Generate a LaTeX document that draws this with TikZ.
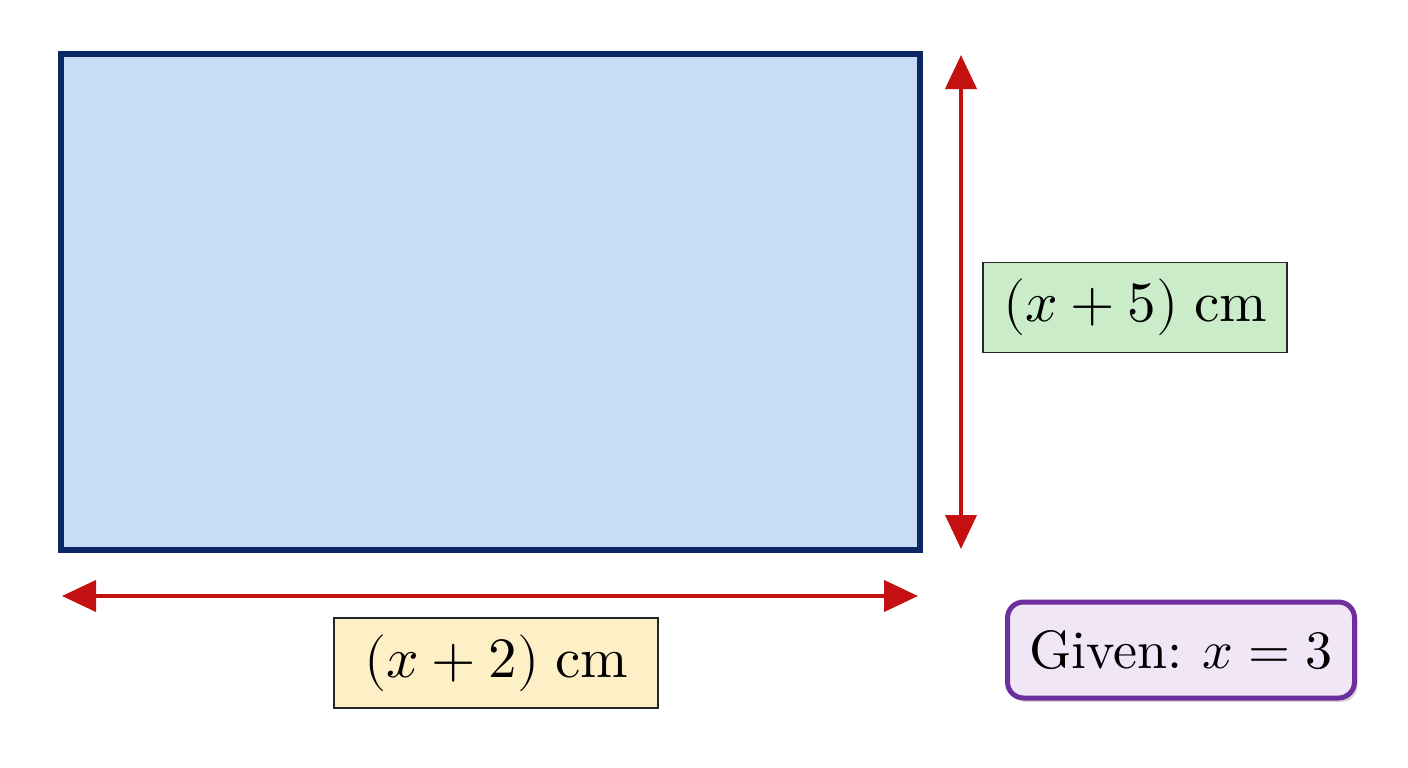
\documentclass[tikz,border=0pt]{standalone}
\usepackage{unicode-math}
\setmainfont{lmroman10-regular.otf}[ItalicFont=lmroman10-italic.otf, BoldFont=lmroman10-bold.otf]
\setmathfont{Latin Modern Math}
\usetikzlibrary{arrows.meta,shadows}
\definecolor{rectfill}{HTML}{C9DCF5}
\definecolor{rectedge}{HTML}{0C2765}
\definecolor{arrred}{HTML}{C41010}
\definecolor{greenfill}{HTML}{CBECC8}
\definecolor{yellowfill}{HTML}{FDF0C6}
\definecolor{purpedge}{HTML}{6E2F9E}
\definecolor{purpfill}{HTML}{F0E6F6}
\tikzset{
  dimarrow/.style={draw=arrred, line width=4pt, {Triangle[length=34pt,width=31pt]}-{Triangle[length=34pt,width=31pt]}},
  dimlabel/.style={draw=black!85, line width=1.4pt, minimum width=#1, minimum height=90pt, inner sep=0pt, font=\fontsize{57}{67}\selectfont},
  givenbox/.style={draw=purpedge, line width=5pt, fill=purpfill, rounded corners=16pt, minimum width=347pt, minimum height=96pt, inner sep=0pt, font=\fontsize{54}{64}\selectfont, drop shadow={shadow xshift=3pt, shadow yshift=-4pt, opacity=0.25, fill=black!60}}
}
\begin{document}
\begin{tikzpicture}[x=1pt,y=-1pt]
\useasboundingbox[fill=white] (0,0) rectangle (1408,768);
\node[draw=rectedge, line width=6pt, fill=rectfill, minimum width=858.5pt, minimum height=495.5pt, inner sep=0pt] (rect) at (490.25,302.25) {};
\coordinate (vtop) at (961,55);
\coordinate (vbot) at (961,549);
\coordinate (hleft) at (62,596);
\coordinate (hright) at (918,596);
\draw[dimarrow] (vtop) -- (vbot);
\draw[dimarrow] (hleft) -- (hright);
\node[dimlabel=304pt, fill=greenfill] (hlab) at (1135,307.5) {$(x+5)$\;cm};
\node[dimlabel=324pt, fill=yellowfill] (wlab) at (496,663) {$(x+2)$\;cm};
\node[givenbox] (given) at (1181,650) {Given:\hspace{-0.08em} $x=3$};
\end{tikzpicture}
\end{document}
